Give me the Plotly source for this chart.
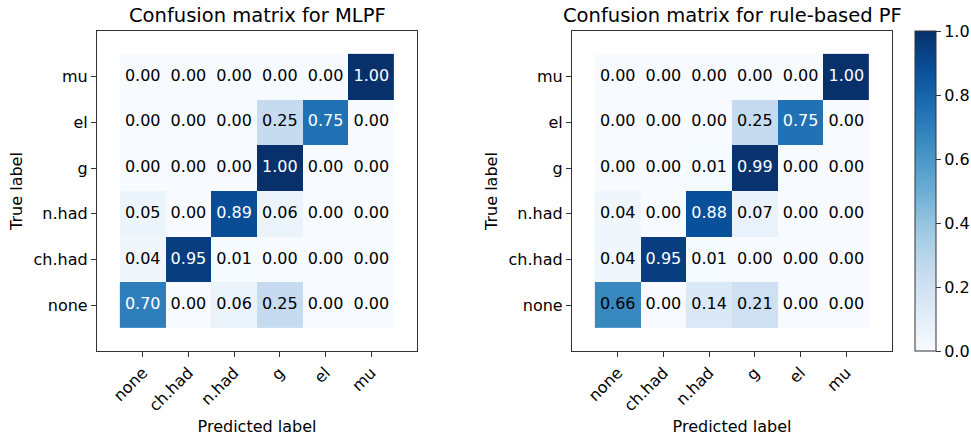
import plotly.graph_objects as go

labels = ["none", "ch.had", "n.had", "g", "el", "mu"]

# rows = true label (none ... mu), columns = predicted label (none ... mu)
cm_mlpf = [
    [0.70, 0.00, 0.06, 0.25, 0.00, 0.00],
    [0.04, 0.95, 0.01, 0.00, 0.00, 0.00],
    [0.05, 0.00, 0.89, 0.06, 0.00, 0.00],
    [0.00, 0.00, 0.00, 1.00, 0.00, 0.00],
    [0.00, 0.00, 0.00, 0.25, 0.75, 0.00],
    [0.00, 0.00, 0.00, 0.00, 0.00, 1.00],
]
cm_rule = [
    [0.66, 0.00, 0.14, 0.21, 0.00, 0.00],
    [0.04, 0.95, 0.01, 0.00, 0.00, 0.00],
    [0.04, 0.00, 0.88, 0.07, 0.00, 0.00],
    [0.00, 0.00, 0.01, 0.99, 0.00, 0.00],
    [0.00, 0.00, 0.00, 0.25, 0.75, 0.00],
    [0.00, 0.00, 0.00, 0.00, 0.00, 1.00],
]
titles = ["Confusion matrix for MLPF", "Confusion matrix for rule-based PF"]
threshold = 1 / 1.5

W, H = 971, 438
FONT = "DejaVu Sans"
TXT = "#000000"
FS = 16

def px_x(p):
    return p / W

def px_y(p):
    return 1 - p / H

panels = [(97, 417), (572, 892)]
top, bottom = 31, 351

fig = go.Figure()
n = len(labels)
idx = list(range(n))

for k, (cm, (x0, x1)) in enumerate(zip([cm_mlpf, cm_rule], panels)):
    xa = "x" if k == 0 else "x2"
    ya = "y" if k == 0 else "y2"
    fig.add_trace(go.Heatmap(
        z=cm, x=idx, y=idx, colorscale="Blues", zmin=0, zmax=1,
        xaxis=xa, yaxis=ya, showscale=(k == 1), hoverinfo="skip",
        colorbar=dict(
            x=px_x(915), xanchor="left", xpad=0, ypad=0,
            y=px_y(top), yanchor="top", len=(bottom - top) / H, lenmode="fraction",
            thickness=21, outlinewidth=1, outlinecolor="#333333",
            tickvals=[0, 0.2, 0.4, 0.6, 0.8, 1.0],
            ticktext=["0.0", "0.2", "0.4", "0.6", "0.8", "1.0"],
            ticks="outside", ticklen=5, tickcolor="#333333",
            tickfont=dict(family=FONT, size=FS, color=TXT),
        ),
    ))
    xs, ys, ts, cs = [], [], [], []
    for i in range(n):
        for j in range(n):
            v = cm[i][j]
            xs.append(j)
            ys.append(i)
            ts.append(f"{v:.2f}")
            cs.append("white" if v > threshold else "black")
    fig.add_trace(go.Scatter(
        x=xs, y=ys, text=ts, mode="text", xaxis=xa, yaxis=ya,
        textfont=dict(family=FONT, size=FS, color=cs),
        hoverinfo="skip", showlegend=False,
    ))
    axcommon = dict(
        range=[-1, n], tickvals=idx, ticktext=labels, showgrid=False, zeroline=False,
        showline=True, mirror=True, linecolor="#333333", linewidth=1.2,
        ticks="outside", ticklen=5, tickcolor="#333333", automargin=False,
        tickfont=dict(family=FONT, size=FS, color=TXT),
    )
    xkey = "xaxis" if k == 0 else "xaxis2"
    ykey = "yaxis" if k == 0 else "yaxis2"
    fig.update_layout({
        xkey: dict(axcommon, domain=[px_x(x0), px_x(x1)], anchor=ya, tickangle=-45,
                   title=dict(text="Predicted label", font=dict(family=FONT, size=FS, color=TXT), standoff=6)),
        ykey: dict(axcommon, domain=[px_y(bottom), px_y(top)], anchor=xa,
                   title=dict(text="True label", font=dict(family=FONT, size=FS, color=TXT), standoff=6)),
    })
    fig.add_annotation(
        x=px_x((x0 + x1) / 2), y=px_y(15), xref="paper", yref="paper",
        text=titles[k], showarrow=False, xanchor="center", yanchor="middle",
        font=dict(family=FONT, size=19.5, color=TXT),
    )

fig.update_layout(
    width=W, height=H, margin=dict(l=0, r=0, t=0, b=0, autoexpand=False),
    paper_bgcolor="white", plot_bgcolor="white", showlegend=False,
    font=dict(family=FONT, color=TXT),
)

fig.write_html(
    "out.html",
    config={"displayModeBar": False},
    post_script="document.body.style.margin='0';document.body.style.padding='0';",
)
